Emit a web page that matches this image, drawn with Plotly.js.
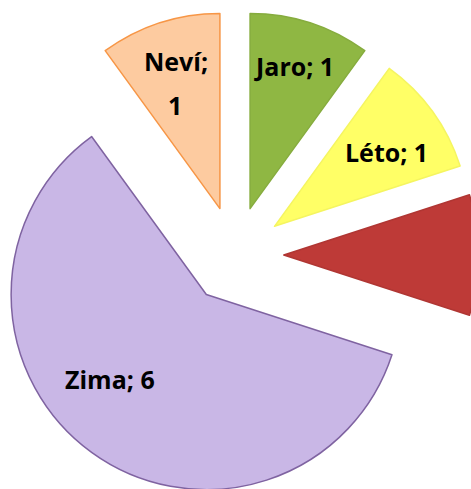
<!DOCTYPE html>
<html>
<head>
<meta charset="utf-8">
<script src="https://cdn.plot.ly/plotly-3.0.1.min.js"></script>
<style>
  html, body { margin: 0; padding: 0; background: #fff; overflow: hidden; width: 471px; height: 489px; }
  #chart { position: absolute; left: -9px; top: 11px; width: 488px; height: 488px; }
</style>
</head>
<body>
<div id="chart"></div>
<script>
// seasons, clockwise from 12 o'clock
const labels = ['Jaro', 'Léto', 'Podzim', 'Zima', 'Neví'];
const values = [1, 1, 1, 6, 1];
const colors = ['#8fb743', '#ffff66', '#be3a37', '#c9b7e6', '#fdcba0'];
const lineColors = ['#86ac3e', '#f5f560', '#b03633', '#7f63a1', '#f79646'];

// where the data labels sit (paper coords); Podzim's label is off the picture
const labelPos = {
    Jaro: [[0.621, 0.887]],
    'Léto': [[0.811, 0.711]],
    Zima: [[0.244, 0.246]],
    'Neví': [[0.379, 0.897], [0.377, 0.807]]   // wrapped on two lines
};

const annotations = [];
labels.forEach((l, i) => {
    const pos = labelPos[l];
    if (!pos) return;
    const parts = pos.length === 2 ? [l + ';', String(values[i])] : [l + '; ' + values[i]];
    parts.forEach((t, k) => {
        annotations.push({
            xref: 'paper', yref: 'paper',
            x: pos[k][0], y: pos[k][1],
            text: t,
            showarrow: false,
            xanchor: 'center', yanchor: 'middle',
            font: { family: 'Open Sans', size: 25, color: '#000', weight: 'bold' }
        });
    });
});

const trace = {
    type: 'pie',
    labels: labels,
    values: values,
    textinfo: 'none',
    sort: false,
    direction: 'clockwise',
    rotation: 0,
    pull: [0.25, 0.25, 0.25, 0.25, 0.25],
    marker: {
        colors: colors,
        line: { color: lineColors, width: 1.5 }
    },
    hoverinfo: 'none'
};

const layout = {
    width: 488,
    height: 488,
    margin: { l: 0, r: 0, t: 0, b: 0 },
    showlegend: false,
    paper_bgcolor: '#fff',
    annotations: annotations
};

Plotly.newPlot('chart', [trace], layout, { displayModeBar: false, staticPlot: true });
</script>
</body>
</html>
